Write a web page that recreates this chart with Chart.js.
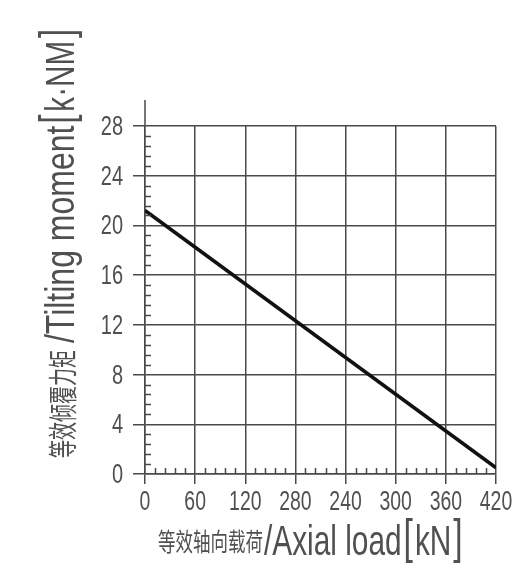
<!DOCTYPE html>
<html>
<head>
<meta charset="utf-8">
<script src="https://cdn.jsdelivr.net/npm/chart.js@4"></script>
<style>
  html, body { margin: 0; padding: 0; background: #fff; }
  #wrap { width: 532px; height: 586px; }
</style>
</head>
<body>
<div id="wrap"><canvas id="chart-area" width="532" height="586"></canvas></div>
<script>
// data
var xTickLabels = ['0', '60', '120', '280', '240', '300', '360', '420'];
var yTickLabels = ['0', '4', '8', '12', '16', '20', '24', '28'];
var axialLoad = [0, 420];
var tiltingMoment = [21.2, 0.5];

var xTitleCn = '等效轴向载荷';
var xTitleEn = '/Axial load';
var xUnit = 'kN';
var yTitleCn = '等效倾覆力矩';
var yTitleEn = '/Tilting moment';
var yUnit = 'k·NM';

var gridColor = '#4a4a4a';
var textColor = '#505050';
var latin = '"Liberation Sans", Arial, sans-serif';
var cjk = '"Noto Sans CJK SC", sans-serif';

var points = axialLoad.map(function(x, i) {
    return {x: x, y: tiltingMoment[i]};
});

// condensed text: squeeze along the writing direction
function squeezed(ctx, text, font, sx, x, y) {
    ctx.save();
    ctx.font = font;
    ctx.translate(x, y);
    ctx.scale(sx, 1);
    ctx.fillText(text, 0, 0);
    var w = ctx.measureText(text).width * sx;
    ctx.restore();
    return w;
}

function drawPieces(ctx, pieces) {
    var pos = 0;
    pieces.forEach(function(p) {
        pos += squeezed(ctx, p.text, p.font, p.sx, pos, p.dy || 0) + (p.gap || 0);
    });
}

var decorPlugin = {
    id: 'decor',
    afterDraw: function(chart) {
        var ctx = chart.ctx;
        var xs = chart.scales.x, ys = chart.scales.y;
        var area = chart.chartArea;
        ctx.save();
        ctx.strokeStyle = gridColor;
        ctx.lineWidth = 1.5;

        // y axis runs on above the top grid line
        ctx.beginPath();
        ctx.moveTo(area.left, area.top);
        ctx.lineTo(area.left, area.top - 26);
        ctx.stroke();

        // minor ticks
        ctx.beginPath();
        var v;
        for (v = 0.8; v < 28; v += 0.8) {
            if (Math.abs(v / 4 - Math.round(v / 4)) < 0.01) continue;
            var py = Math.round(ys.getPixelForValue(v)) + 0.5;
            ctx.moveTo(area.left, py);
            ctx.lineTo(area.left + 6, py);
        }
        for (v = 12; v < 420; v += 12) {
            if (v % 60 === 0) continue;
            var px = Math.round(xs.getPixelForValue(v)) + 0.5;
            ctx.moveTo(px, area.bottom);
            ctx.lineTo(px, area.bottom - 6);
        }
        ctx.stroke();

        // tick labels, narrow like the drawing font
        ctx.fillStyle = textColor;
        ctx.textBaseline = 'alphabetic';
        var tickFont = '27px ' + latin;
        ctx.font = tickFont;
        xs.ticks.forEach(function(t, i) {
            var w = ctx.measureText(xTickLabels[i]).width * 0.72;
            squeezed(ctx, xTickLabels[i], tickFont, 0.72, xs.getPixelForTick(i) - w / 2, area.bottom + 36);
        });
        ys.ticks.forEach(function(t, i) {
            var w = ctx.measureText(yTickLabels[i]).width * 0.74;
            squeezed(ctx, yTickLabels[i], tickFont, 0.74, area.left - 22 - w, ys.getPixelForTick(i) + 9);
        });

        // axis titles
        ctx.save();
        ctx.translate(158, 555);
        drawPieces(ctx, [
            {text: xTitleCn, font: '25px ' + cjk, sx: 0.7, gap: 1, dy: -4},
            {text: xTitleEn, font: '42px ' + latin, sx: 0.71, gap: 2},
            {text: '[', font: '48px ' + latin, sx: 0.7, gap: 2, dy: -2},
            {text: xUnit, font: '42px ' + latin, sx: 0.71, gap: 2},
            {text: ']', font: '48px ' + latin, sx: 0.7, dy: -2}
        ]);
        ctx.restore();

        ctx.save();
        ctx.translate(74, 458);
        ctx.rotate(-Math.PI / 2);
        drawPieces(ctx, [
            {text: yTitleCn, font: '29px ' + cjk, sx: 0.62, gap: 7},
            {text: yTitleEn, font: '40px ' + latin, sx: 0.8, gap: 2},
            {text: '[', font: '46px ' + latin, sx: 0.7, gap: 3, dy: -2},
            {text: yUnit, font: '40px ' + latin, sx: 0.74, gap: 3},
            {text: ']', font: '46px ' + latin, sx: 0.7, dy: -2}
        ]);
        ctx.restore();

        ctx.restore();
    }
};

var config = {
    type: 'scatter',
    data: {
        datasets: [{
            data: points,
            showLine: true,
            borderColor: '#111',
            borderWidth: 3.5,
            pointRadius: 0,
            fill: false
        }]
    },
    plugins: [decorPlugin],
    options: {
        responsive: false,
        animation: false,
        layout: {
            padding: {top: 126, right: 36, bottom: 0, left: 0}
        },
        plugins: {
            legend: {display: false},
            tooltip: {enabled: false}
        },
        scales: {
            x: {
                type: 'linear',
                min: 0,
                max: 420,
                afterFit: function(scale) { scale.height = 112; },
                grid: {color: gridColor, lineWidth: 1.5, tickLength: 10, tickColor: gridColor},
                border: {color: gridColor, width: 1.5},
                ticks: {stepSize: 60, display: false}
            },
            y: {
                min: 0,
                max: 28,
                afterFit: function(scale) { scale.width = 145; },
                grid: {color: gridColor, lineWidth: 1.5, tickLength: 12, tickColor: gridColor},
                border: {color: gridColor, width: 1.5},
                ticks: {stepSize: 4, display: false}
            }
        }
    }
};

window.onload = function() {
    var ctx = document.getElementById('chart-area').getContext('2d');
    window.myChart = new Chart(ctx, config);
};
</script>
</body>
</html>
